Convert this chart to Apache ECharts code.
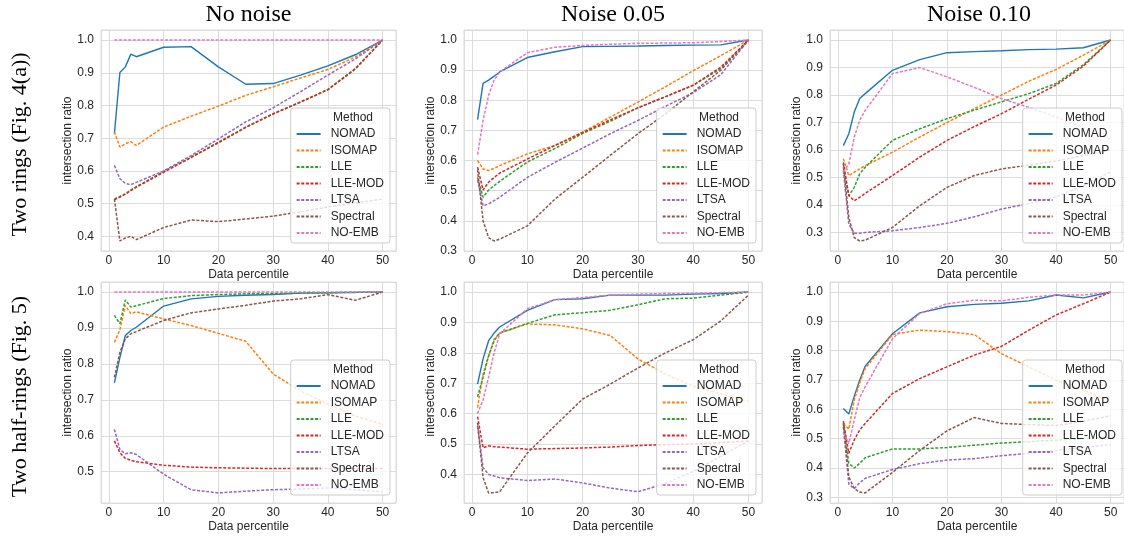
<!DOCTYPE html>
<html>
<head>
<meta charset="utf-8">
<script src="https://cdn.jsdelivr.net/npm/echarts@6/dist/echarts.min.js"></script>
<style>
  html, body { margin: 0; padding: 0; background: #fff; }
  #chart { width: 1124px; height: 537px; }
</style>
</head>
<body>
<div id="chart"></div>
<script>
// --- data ---
const percentiles = [1, 2, 3, 4, 5, 10, 15, 20, 25, 30, 35, 40, 45, 50]
const methods = ['NOMAD', 'ISOMAP', 'LLE', 'LLE-MOD', 'LTSA', 'Spectral', 'NO-EMB']
const colTitles = ['No noise', 'Noise 0.05', 'Noise 0.10']
const rowTitles = ['Two rings (Fig. 4(a))', 'Two half-rings (Fig. 5)']

// rows follow the methods order
const ringsNoNoise = [
  [0.714, 0.901, 0.918, 0.957, 0.949, 0.978, 0.980, 0.918, 0.865, 0.867, 0.893, 0.921, 0.955, 1.0],
  [0.719, 0.673, 0.683, 0.689, 0.678, 0.734, 0.767, 0.798, 0.831, 0.857, 0.884, 0.910, 0.948, 1.0],
  [0.514, 0.522, 0.530, 0.542, 0.552, 0.598, 0.642, 0.688, 0.734, 0.775, 0.811, 0.849, 0.913, 1.0],
  [0.512, 0.520, 0.529, 0.540, 0.550, 0.596, 0.641, 0.686, 0.733, 0.774, 0.810, 0.848, 0.911, 1.0],
  [0.617, 0.576, 0.562, 0.558, 0.565, 0.600, 0.647, 0.698, 0.750, 0.793, 0.842, 0.893, 0.942, 1.0],
  [0.514, 0.386, 0.395, 0.400, 0.390, 0.427, 0.450, 0.445, 0.453, 0.462, 0.475, 0.490, 0.502, 0.514],
  [1.0, 1.0, 1.0, 1.0, 1.0, 1.0, 1.0, 1.0, 1.0, 1.0, 1.0, 1.0, 1.0, 1.0]
]
const ringsNoise05 = [
  [0.736, 0.856, 0.867, 0.880, 0.894, 0.942, 0.961, 0.978, 0.979, 0.980, 0.982, 0.983, 0.984, 1.0],
  [0.600, 0.572, 0.567, 0.574, 0.583, 0.622, 0.650, 0.694, 0.744, 0.794, 0.845, 0.898, 0.948, 1.0],
  [0.544, 0.478, 0.502, 0.517, 0.531, 0.595, 0.640, 0.690, 0.730, 0.775, 0.812, 0.850, 0.905, 1.0],
  [0.578, 0.502, 0.528, 0.544, 0.558, 0.605, 0.650, 0.693, 0.735, 0.775, 0.812, 0.850, 0.910, 1.0],
  [0.535, 0.450, 0.456, 0.467, 0.478, 0.544, 0.594, 0.641, 0.689, 0.733, 0.780, 0.825, 0.885, 1.0],
  [0.570, 0.400, 0.344, 0.333, 0.339, 0.383, 0.472, 0.544, 0.617, 0.689, 0.755, 0.828, 0.900, 1.0],
  [0.620, 0.733, 0.817, 0.867, 0.894, 0.958, 0.976, 0.982, 0.986, 0.989, 0.990, 0.991, 0.995, 1.0]
]
const ringsNoise10 = [
  [0.616, 0.659, 0.738, 0.787, 0.805, 0.890, 0.929, 0.954, 0.958, 0.961, 0.965, 0.967, 0.972, 1.0],
  [0.568, 0.507, 0.519, 0.531, 0.543, 0.592, 0.647, 0.700, 0.750, 0.800, 0.850, 0.893, 0.945, 1.0],
  [0.537, 0.434, 0.464, 0.513, 0.537, 0.635, 0.677, 0.714, 0.745, 0.775, 0.805, 0.842, 0.910, 1.0],
  [0.555, 0.434, 0.415, 0.428, 0.442, 0.507, 0.574, 0.635, 0.685, 0.732, 0.785, 0.836, 0.905, 1.0],
  [0.525, 0.330, 0.297, 0.297, 0.300, 0.306, 0.318, 0.333, 0.357, 0.385, 0.405, 0.430, 0.470, 0.520],
  [0.549, 0.354, 0.281, 0.269, 0.272, 0.318, 0.397, 0.464, 0.507, 0.531, 0.545, 0.560, 0.580, 0.600],
  [0.520, 0.549, 0.647, 0.708, 0.744, 0.878, 0.900, 0.866, 0.828, 0.787, 0.755, 0.720, 0.680, 0.640]
]
const halfNoNoise = [
  [0.747, 0.818, 0.879, 0.893, 0.902, 0.961, 0.981, 0.988, 0.991, 0.993, 0.997, 0.998, 0.999, 1.0],
  [0.860, 0.895, 0.963, 0.940, 0.945, 0.925, 0.907, 0.885, 0.863, 0.772, 0.725, 0.688, 0.655, 0.632],
  [0.935, 0.912, 0.978, 0.958, 0.962, 0.982, 0.990, 0.993, 0.995, 0.995, 0.997, 0.998, 0.999, 1.0],
  [0.586, 0.553, 0.537, 0.532, 0.528, 0.518, 0.513, 0.511, 0.510, 0.509, 0.509, 0.509, 0.509, 0.509],
  [0.618, 0.562, 0.550, 0.553, 0.548, 0.493, 0.450, 0.441, 0.446, 0.450, 0.452, 0.455, 0.450, 0.444],
  [0.763, 0.832, 0.870, 0.884, 0.890, 0.921, 0.942, 0.953, 0.963, 0.975, 0.981, 0.993, 0.977, 1.0],
  [1.0, 1.0, 1.0, 1.0, 1.0, 1.0, 1.0, 1.0, 1.0, 1.0, 1.0, 1.0, 1.0, 1.0]
]
const halfNoise05 = [
  [0.697, 0.780, 0.840, 0.865, 0.885, 0.940, 0.975, 0.978, 0.990, 0.990, 0.990, 0.993, 0.995, 1.0],
  [0.620, 0.730, 0.790, 0.845, 0.865, 0.895, 0.892, 0.879, 0.857, 0.780, 0.730, 0.690, 0.665, 0.640],
  [0.655, 0.720, 0.790, 0.840, 0.865, 0.897, 0.925, 0.932, 0.940, 0.958, 0.978, 0.980, 0.990, 1.0],
  [0.590, 0.488, 0.494, 0.491, 0.490, 0.483, 0.485, 0.487, 0.490, 0.495, 0.498, 0.500, 0.505, 0.510],
  [0.560, 0.422, 0.400, 0.395, 0.389, 0.380, 0.385, 0.372, 0.355, 0.343, 0.370, 0.410, 0.460, 0.510],
  [0.570, 0.390, 0.339, 0.340, 0.343, 0.470, 0.560, 0.648, 0.697, 0.750, 0.800, 0.843, 0.905, 0.990],
  [0.600, 0.645, 0.720, 0.800, 0.862, 0.945, 0.975, 0.982, 0.990, 0.993, 0.995, 0.996, 0.998, 1.0]
]
const halfNoise10 = [
  [0.603, 0.584, 0.645, 0.700, 0.747, 0.858, 0.929, 0.950, 0.958, 0.962, 0.970, 0.990, 0.980, 1.0],
  [0.552, 0.532, 0.632, 0.690, 0.739, 0.855, 0.870, 0.865, 0.855, 0.790, 0.745, 0.700, 0.665, 0.630],
  [0.550, 0.416, 0.400, 0.416, 0.435, 0.465, 0.465, 0.470, 0.478, 0.485, 0.490, 0.495, 0.500, 0.505],
  [0.560, 0.450, 0.496, 0.530, 0.552, 0.654, 0.705, 0.745, 0.785, 0.815, 0.870, 0.922, 0.960, 1.0],
  [0.540, 0.345, 0.330, 0.350, 0.365, 0.395, 0.415, 0.427, 0.432, 0.442, 0.450, 0.460, 0.470, 0.480],
  [0.555, 0.370, 0.330, 0.318, 0.315, 0.385, 0.460, 0.527, 0.572, 0.552, 0.548, 0.545, 0.560, 0.578],
  [0.520, 0.484, 0.564, 0.640, 0.677, 0.841, 0.927, 0.960, 0.972, 0.970, 0.982, 0.990, 0.990, 1.0]
]
const panels = [ringsNoNoise, ringsNoise05, ringsNoise10, halfNoNoise, halfNoise05, halfNoise10]

// --- styling ---
const COLORS = ['#1f77b4', '#ff7f0e', '#2ca02c', '#d62728', '#9467bd', '#8c564b', '#e377c2']
const SANS = '"Liberation Sans", Arial, sans-serif'
const SERIF = '"Liberation Serif", "Times New Roman", serif'
const TEXT = '#262626'
const GRIDC = '#dcdcdc'
const W = 1124

const gridBoxes = [
  { left: 101, top: 30, width: 295, height: 221 },
  { left: 464, top: 30, width: 298, height: 221 },
  { left: 830, top: 30, width: 298, height: 221 },
  { left: 101, top: 282, width: 295, height: 221 },
  { left: 464, top: 282, width: 298, height: 221 },
  { left: 830, top: 282, width: 298, height: 221 }
]
// gap between the y axis and its name, per column
const yNameGap = [26, 22, 22]

// matplotlib-like 5% margins
const padMin = v => v.min - (v.max - v.min) * 0.05
const padMax = v => v.max + (v.max - v.min) * 0.05

const onTenth = v => Math.abs(v * 10 - Math.round(v * 10)) < 1e-6

const grid = [], xAxis = [], yAxis = [], legend = [], title = [], series = []

gridBoxes.forEach((g, i) => {
  const right = g.left + g.width
  const bottom = g.top + g.height
  grid.push({ ...g, show: true, borderColor: GRIDC, borderWidth: 1, backgroundColor: '#fff' })

  xAxis.push({
    type: 'value', gridIndex: i, min: padMin, max: padMax, splitNumber: 5,
    axisLine: { show: false }, axisTick: { show: false },
    axisLabel: {
      color: TEXT, fontSize: 12, fontFamily: SANS, margin: 4,
      showMinLabel: false, showMaxLabel: false,
      formatter: v => (Math.abs(v % 10) < 1e-6 ? String(Math.round(v)) : '')
    },
    splitLine: { lineStyle: { color: GRIDC, width: 1 } },
    name: 'Data percentile', nameLocation: 'middle', nameGap: 18,
    nameTextStyle: { color: TEXT, fontSize: 12, fontFamily: SANS }
  })

  yAxis.push({
    type: 'value', gridIndex: i, min: padMin, max: padMax, splitNumber: 7,
    axisLine: { show: false }, axisTick: { show: false },
    axisLabel: {
      color: TEXT, fontSize: 12, fontFamily: SANS, margin: 7,
      showMinLabel: false, showMaxLabel: false,
      formatter: v => (onTenth(v) ? v.toFixed(1) : '')
    },
    splitLine: { lineStyle: { color: GRIDC, width: 1 } },
    name: 'intersection ratio', nameLocation: 'middle', nameGap: yNameGap[i % 3],
    nameTextStyle: { color: TEXT, fontSize: 12, fontFamily: SANS }
  })

  const legTop = bottom - 7 - 136
  legend.push({
    orient: 'vertical', right: W - (right - 6), top: legTop,
    data: methods, itemWidth: 24, itemHeight: 12, itemGap: 4.5,
    padding: [20, 6, 4, 5],
    backgroundColor: 'rgba(255,255,255,0.8)', borderColor: '#cccccc', borderWidth: 1, borderRadius: 3,
    selectedMode: false,
    itemStyle: { opacity: 0 },
    textStyle: { color: TEXT, fontSize: 12, fontFamily: SANS, padding: [0, 0, 0, 5] }
  })
  title.push({
    text: 'Method', left: right - 63, top: legTop + 4, padding: 0,
    textStyle: { color: TEXT, fontSize: 12, fontWeight: 'normal', fontFamily: SANS }
  })

  panels[i].forEach((vals, m) => {
    series.push({
      type: 'line', name: methods[m], xAxisIndex: i, yAxisIndex: i,
      data: percentiles.map((x, k) => [x, vals[k]]),
      symbol: 'none', silent: true,
      color: COLORS[m],
      lineStyle: { color: COLORS[m], width: m === 0 ? 1.4 : 1.5, type: m === 0 ? 'solid' : [3, 1.6] }
    })
  })
})

const graphic = []
colTitles.forEach((t, c) => {
  const g = gridBoxes[c]
  graphic.push({
    type: 'text', x: g.left + g.width / 2, y: 15,
    style: { text: t, font: '24px ' + SERIF, fill: '#000', textAlign: 'center', textVerticalAlign: 'middle' }
  })
})
rowTitles.forEach((t, r) => {
  const g = gridBoxes[r * 3]
  graphic.push({
    type: 'text', x: 20, y: g.top + g.height / 2 + 4, rotation: Math.PI / 2,
    style: { text: t, font: '22px ' + SERIF, fill: '#000', textAlign: 'center', textVerticalAlign: 'middle' }
  })
})

const chart = echarts.init(document.getElementById('chart'))
chart.setOption({
  animation: false,
  backgroundColor: '#fff',
  grid, xAxis, yAxis, legend, title, series, graphic
})
</script>
</body>
</html>
